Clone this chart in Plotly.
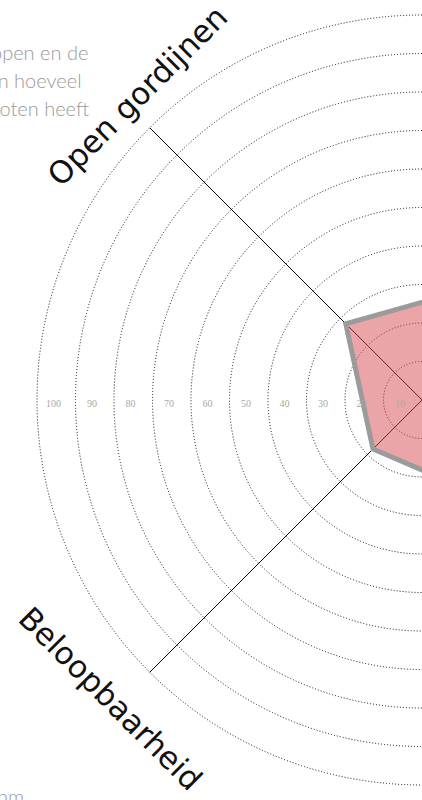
import plotly.graph_objects as go

# ---- data ----
axes = ["As rechtsboven", "Open gordijnen", "Beloopbaarheid", "As rechtsonder"]
axis_angles = [45, 135, 225, 315]
scores = [50, 28, 18, 45]
ring_values = [10, 20, 30, 40, 50, 60, 70, 80, 90, 100]
ring_labels = [str(v) for v in ring_values]
visible_titles = ["Open gordijnen", "Beloopbaarheid"]
paragraph_bits = ["open en de", "an hoeveel", "genoten heeft", "nm"]

W, H = 422, 800
R100 = 385          # radius of the 100 ring in px
RMAX = 101.5        # radial range end (so the 100 ring is drawn as a gridline)
R = R100 * RMAX / 100

fig = go.Figure()

# spokes for the visible axes (drawn first so the translucent fill lies over them)
for ang in axis_angles[1:3]:
    fig.add_trace(go.Scatterpolar(
        r=[0, 100], theta=[ang, ang], mode="lines",
        line=dict(color="#000", width=1), hoverinfo="skip", showlegend=False,
    ))

fig.add_trace(go.Scatterpolar(
    r=scores + scores[:1],
    theta=axis_angles + axis_angles[:1],
    mode="lines",
    fill="toself",
    fillcolor="rgba(215,75,81,0.5)",
    line=dict(color="#9b9b9b", width=5),
    hoverinfo="skip",
    showlegend=False,
))

fig.add_trace(go.Scatterpolar(
    r=[v - 4.3 for v in ring_values],
    theta=[180] * len(ring_values),
    mode="text",
    text=ring_labels,
    textposition="bottom center",
    textfont=dict(family="Liberation Serif, DejaVu Serif, serif", size=10, color="#a8a8a8"),
    hoverinfo="skip",
    showlegend=False,
))

fig.update_layout(
    width=W, height=H,
    margin=dict(l=0, r=0, t=0, b=0),
    paper_bgcolor="white",
    showlegend=False,
    polar=dict(
        domain=dict(x=[(W - R) / W, 1], y=[(H / 2 - R) / H, (H / 2 + R) / H]),
        sector=[90, 270],
        bgcolor="white",
        radialaxis=dict(range=[0, RMAX], tickvals=ring_values, showticklabels=False,
                        ticks="", showline=False, gridcolor="#111", griddash="1px,2px",
                        gridwidth=1.2, angle=180),
        angularaxis=dict(tickvals=axis_angles, showticklabels=False, ticks="",
                         showline=False, showgrid=False,
                         direction="counterclockwise", rotation=0),
    ),
)

title_font = dict(family="DejaVu Sans, sans-serif", size=31, color="#111")
fig.add_annotation(text=visible_titles[0], x=137 / W, y=1 - 96 / H, xref="paper", yref="paper",
                   showarrow=False, textangle=-45, font=title_font, xanchor="center", yanchor="middle")
fig.add_annotation(text=visible_titles[1], x=110 / W, y=1 - 698 / H, xref="paper", yref="paper",
                   showarrow=False, textangle=45, font=title_font, xanchor="center", yanchor="middle")

para_font = dict(family="Lato, sans-serif", size=20, color="#9a9a9a", weight=300)
for txt, xr, yc in zip(paragraph_bits, [90, 84, 91, 26], [52, 80, 108, 796]):
    fig.add_annotation(text=txt, x=xr / W, y=1 - yc / H, xref="paper", yref="paper",
                       showarrow=False, font=para_font, xanchor="right", yanchor="middle")

fig.write_html(
    "out.html",
    config={"displayModeBar": False},
    post_script="document.body.style.margin='0';document.body.style.overflow='hidden';"
                "document.documentElement.style.overflow='hidden';",
)
